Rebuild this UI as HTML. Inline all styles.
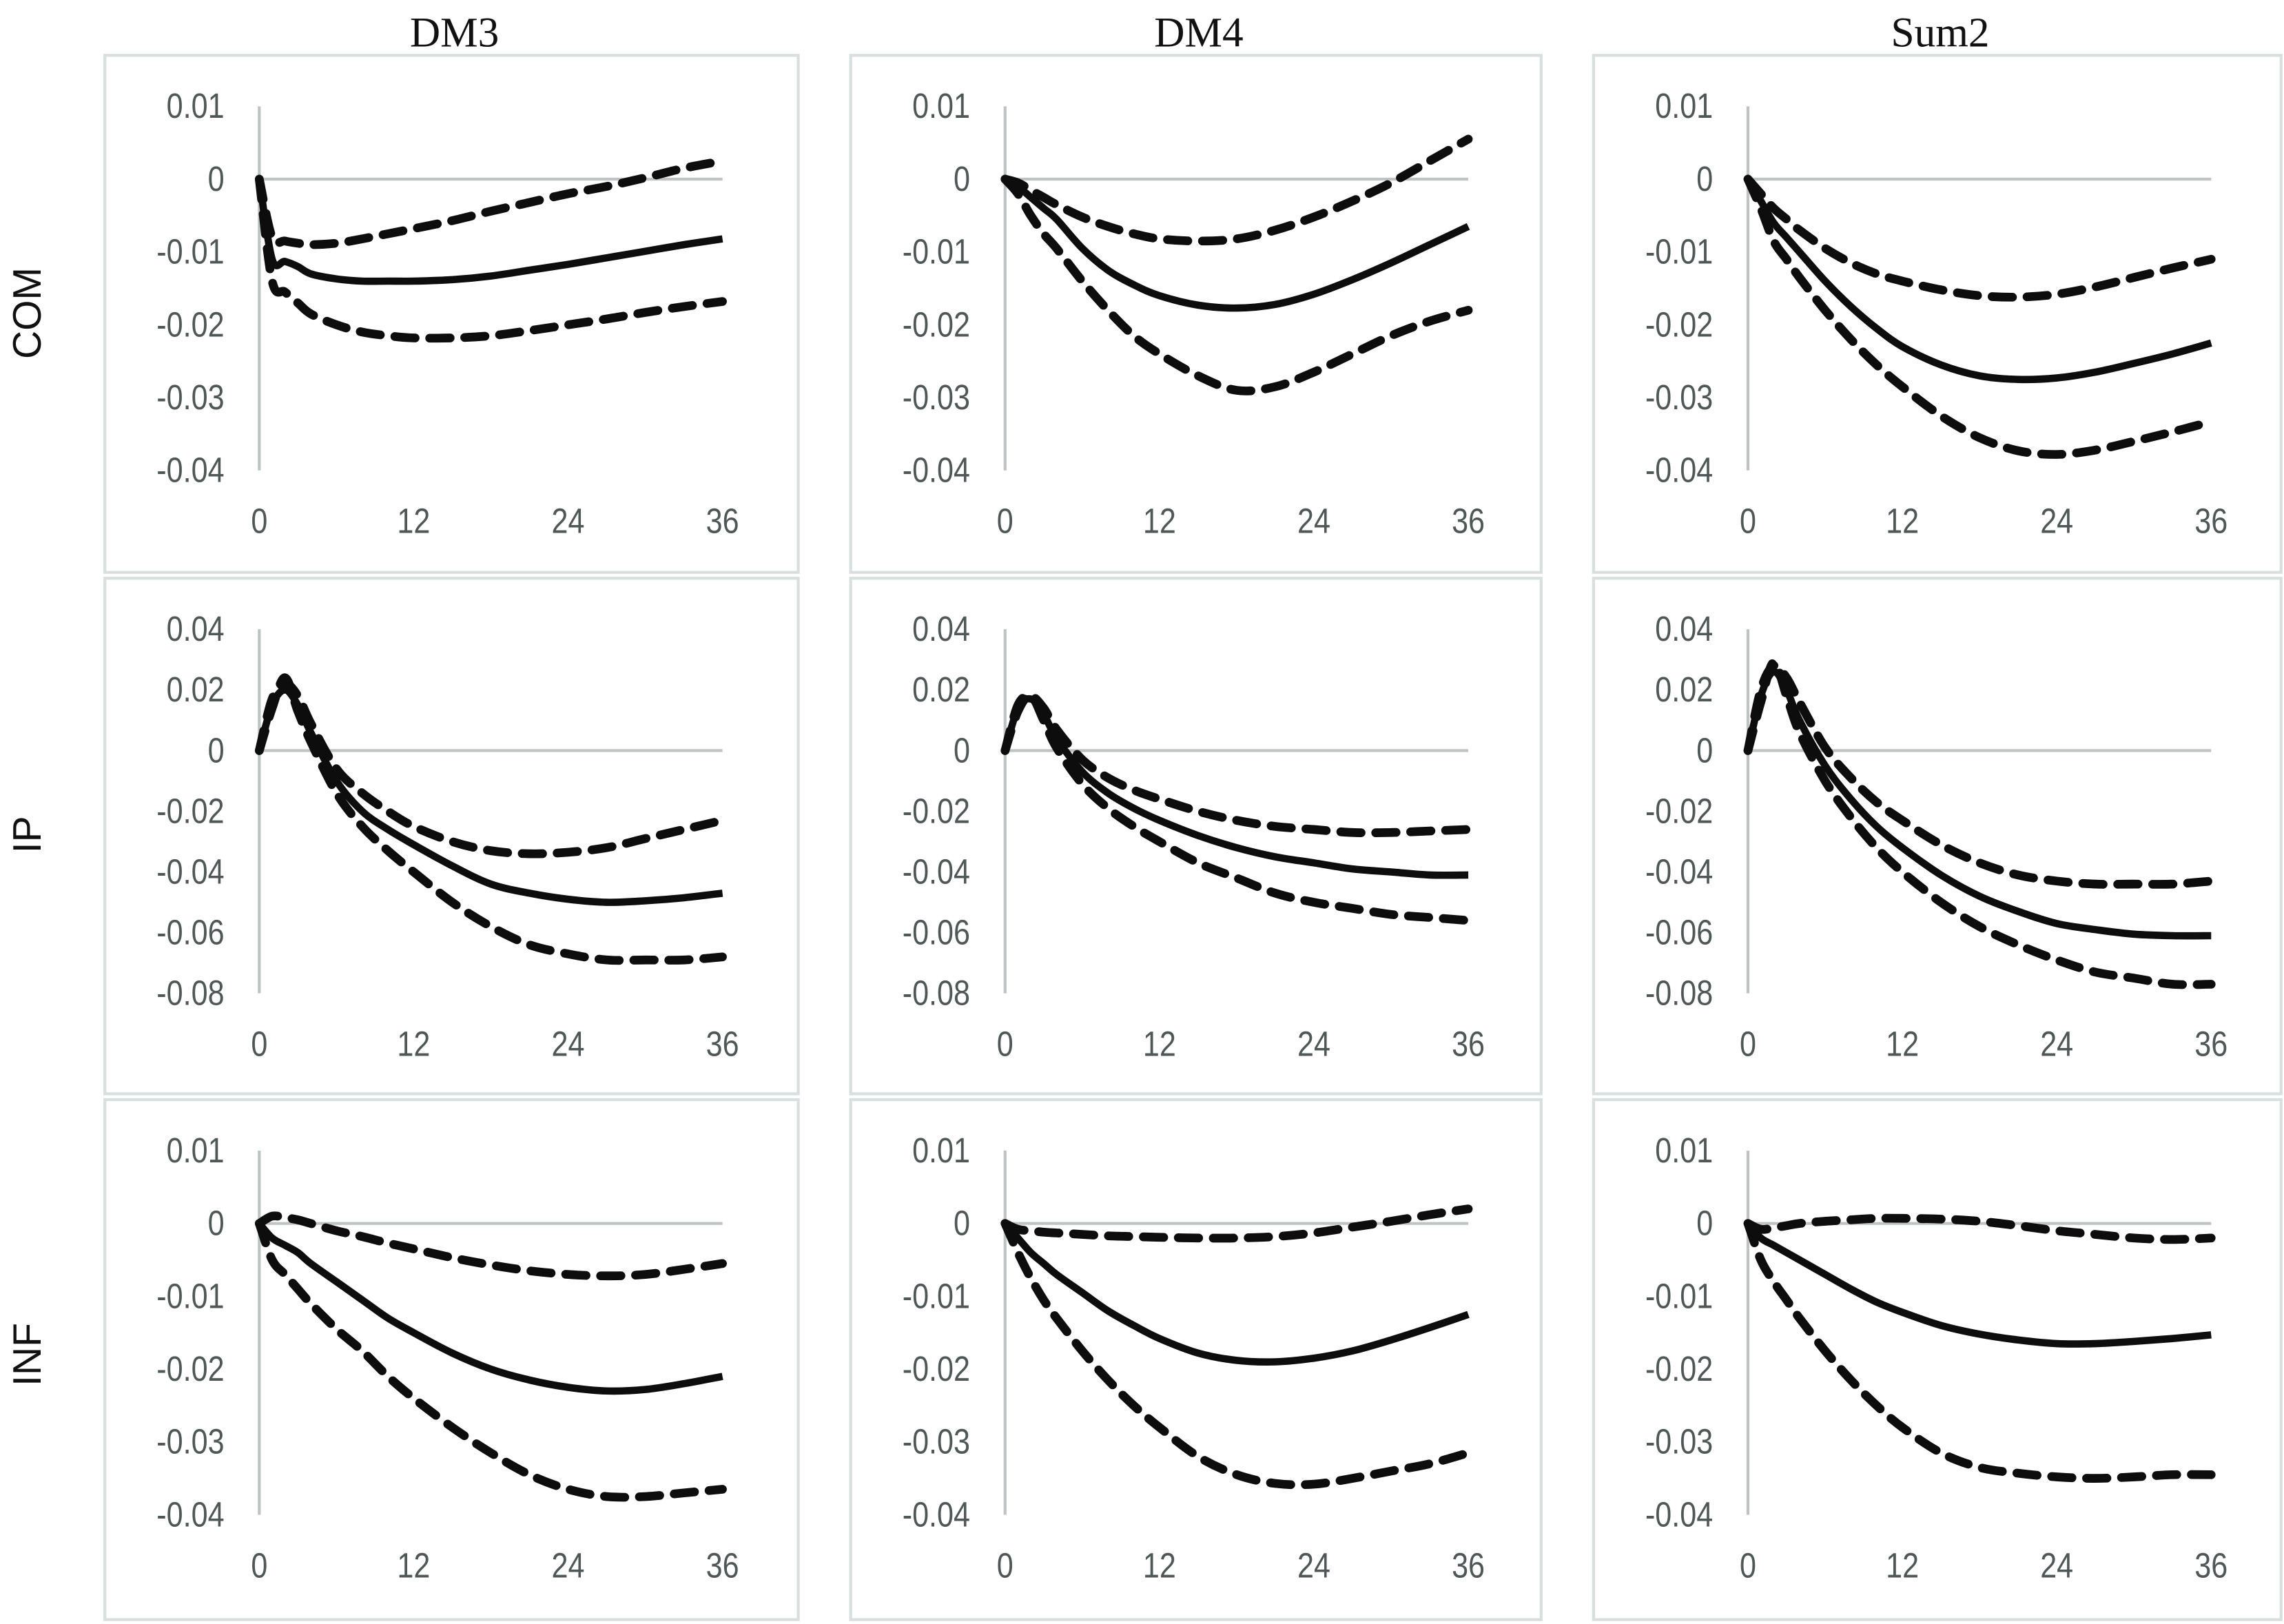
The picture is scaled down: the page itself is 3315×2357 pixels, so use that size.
<!DOCTYPE html>
<html><head><meta charset="utf-8"><style>
html,body{margin:0;padding:0;background:#fff;}
svg{display:block;}
</style></head><body>
<svg id="chart" xmlns="http://www.w3.org/2000/svg" width="3315" height="2357" viewBox="0 0 1568 1115" preserveAspectRatio="none"></svg>
<script>
// ---- data ----
const months = [0,1,2,3,4,6,8,10,12,15,18,21,24,27,30,33,36];
const xTicks = [0,12,24,36];
const colTitles = ["DM3","DM4","Sum2"];
const rowTitles = ["COM","IP","INF"];
const ticksSmall = [0.01,0,-0.01,-0.02,-0.03,-0.04];
const ticksIP = [0.04,0.02,0,-0.02,-0.04,-0.06,-0.08];

const comDM3Solid = [0,-0.011,-0.0113,-0.012,-0.013,-0.0137,-0.014,-0.014,-0.014,-0.0138,-0.0133,-0.0125,-0.0117,-0.0108,-0.0099,-0.009,-0.0082];
const comDM3Upper = [0,-0.008,-0.0085,-0.0088,-0.009,-0.0088,-0.0082,-0.0075,-0.0068,-0.0057,-0.0044,-0.0032,-0.002,-0.001,0.0002,0.0015,0.0025];
const comDM3Lower = [0,-0.014,-0.0155,-0.017,-0.0185,-0.020,-0.021,-0.0215,-0.0218,-0.0218,-0.0215,-0.0208,-0.0200,-0.0192,-0.0183,-0.0175,-0.0168];

const comDM4Solid = [0,-0.001,-0.0025,-0.004,-0.0055,-0.0095,-0.0125,-0.0145,-0.016,-0.0173,-0.0177,-0.0172,-0.0158,-0.0138,-0.0115,-0.009,-0.0065];
const comDM4Upper = [0,-0.0005,-0.0015,-0.0025,-0.0035,-0.0052,-0.0065,-0.0075,-0.0082,-0.0085,-0.0082,-0.007,-0.0052,-0.003,-0.0005,0.0025,0.0055];
const comDM4Lower = [0,-0.002,-0.005,-0.0075,-0.0095,-0.014,-0.018,-0.0215,-0.024,-0.027,-0.029,-0.0285,-0.0265,-0.024,-0.0215,-0.0195,-0.018];

const comSumSolid = [0,-0.003,-0.006,-0.008,-0.010,-0.014,-0.0175,-0.0205,-0.023,-0.0255,-0.027,-0.0275,-0.0273,-0.0265,-0.0253,-0.024,-0.0225];
const comSumUpper = [0,-0.002,-0.004,-0.0055,-0.007,-0.0095,-0.0115,-0.013,-0.014,-0.0152,-0.016,-0.0162,-0.0158,-0.0148,-0.0135,-0.0122,-0.011];
const comSumLower = [0,-0.004,-0.0085,-0.011,-0.0135,-0.018,-0.022,-0.0255,-0.0285,-0.0325,-0.0355,-0.0373,-0.0378,-0.0372,-0.036,-0.0347,-0.0333];

const ipDM3Solid = [0,0.015,0.02,0.015,0.006,-0.01,-0.02,-0.026,-0.031,-0.038,-0.044,-0.047,-0.049,-0.050,-0.0495,-0.0485,-0.047];
const ipDM3Upper = [0,0.017,0.022,0.018,0.009,-0.006,-0.014,-0.020,-0.025,-0.030,-0.033,-0.034,-0.0335,-0.032,-0.029,-0.026,-0.023];
const ipDM3Lower = [0,0.014,0.024,0.013,0.003,-0.014,-0.025,-0.033,-0.040,-0.050,-0.058,-0.064,-0.067,-0.069,-0.069,-0.069,-0.068];

const ipDM4Solid = [0,0.014,0.017,0.012,0.004,-0.007,-0.014,-0.019,-0.023,-0.028,-0.032,-0.035,-0.037,-0.039,-0.040,-0.041,-0.041];
const ipDM4Upper = [0,0.015,0.018,0.014,0.007,-0.003,-0.009,-0.013,-0.016,-0.020,-0.023,-0.025,-0.026,-0.027,-0.027,-0.0265,-0.026];
const ipDM4Lower = [0,0.013,0.018,0.010,0.001,-0.011,-0.019,-0.025,-0.030,-0.037,-0.042,-0.047,-0.050,-0.052,-0.054,-0.055,-0.056];

const ipSumSolid = [0,0.018,0.026,0.02,0.01,-0.005,-0.016,-0.025,-0.032,-0.041,-0.048,-0.053,-0.057,-0.059,-0.0605,-0.061,-0.061];
const ipSumUpper = [0,0.02,0.028,0.024,0.016,0.001,-0.009,-0.017,-0.023,-0.031,-0.037,-0.041,-0.043,-0.044,-0.044,-0.044,-0.043];
const ipSumLower = [0,0.016,0.029,0.018,0.006,-0.010,-0.022,-0.032,-0.040,-0.050,-0.058,-0.064,-0.069,-0.073,-0.075,-0.077,-0.077];

const infDM3Solid = [0,-0.002,-0.003,-0.004,-0.0055,-0.008,-0.0105,-0.013,-0.015,-0.0178,-0.020,-0.0215,-0.0225,-0.023,-0.0228,-0.022,-0.021];
const infDM3Upper = [0,0.001,0.0008,0.0005,0,-0.001,-0.0018,-0.0027,-0.0035,-0.0047,-0.0057,-0.0065,-0.007,-0.0072,-0.007,-0.0063,-0.0055];
const infDM3Lower = [0,-0.005,-0.007,-0.009,-0.011,-0.0145,-0.0175,-0.021,-0.024,-0.028,-0.0315,-0.0345,-0.0365,-0.0375,-0.0375,-0.037,-0.0365];

const infDM4Solid = [0,-0.002,-0.004,-0.0055,-0.007,-0.0095,-0.012,-0.014,-0.0158,-0.0178,-0.0188,-0.019,-0.0185,-0.0175,-0.016,-0.0143,-0.0125];
const infDM4Upper = [0,-0.0008,-0.001,-0.0012,-0.0013,-0.0015,-0.0017,-0.0018,-0.0019,-0.002,-0.002,-0.0018,-0.0013,-0.0005,0.0003,0.0012,0.002];
const infDM4Lower = [0,-0.004,-0.0075,-0.0105,-0.013,-0.0175,-0.0215,-0.025,-0.028,-0.032,-0.0345,-0.0357,-0.0358,-0.035,-0.034,-0.033,-0.0315];

const infSumSolid = [0,-0.002,-0.003,-0.004,-0.005,-0.007,-0.009,-0.0108,-0.0122,-0.014,-0.0152,-0.016,-0.0165,-0.0165,-0.0162,-0.0158,-0.0153];
const infSumUpper = [0,-0.0008,-0.0006,-0.0003,0,0.0003,0.0005,0.0007,0.0007,0.0006,0.0003,-0.0003,-0.001,-0.0015,-0.002,-0.0022,-0.002];
const infSumLower = [0,-0.005,-0.008,-0.0105,-0.013,-0.0175,-0.0215,-0.025,-0.028,-0.0315,-0.0335,-0.0343,-0.0348,-0.035,-0.0348,-0.0345,-0.0345];

const panelSeries = [
  [[comDM3Solid,comDM3Upper,comDM3Lower],[comDM4Solid,comDM4Upper,comDM4Lower],[comSumSolid,comSumUpper,comSumLower]],
  [[ipDM3Solid,ipDM3Upper,ipDM3Lower],[ipDM4Solid,ipDM4Upper,ipDM4Lower],[ipSumSolid,ipSumUpper,ipSumLower]],
  [[infDM3Solid,infDM3Upper,infDM3Lower],[infDM4Solid,infDM4Upper,infDM4Lower],[infSumSolid,infSumUpper,infSumLower]]
];
const rowTicks = [ticksSmall, ticksIP, ticksSmall];

// ---- layout ----
const NS = "http://www.w3.org/2000/svg";
const svg = document.getElementById("chart");
const colLeft = [72,584,1094], colRight = [548,1058,1566];
const rowTop = [38,397,755], rowBottom = [393,751,1112];
const colNames = ["dm3","dm4","sum2"], rowNames = ["com","ip","inf"];

function mk(tag, attrs, parent){
  const e = document.createElementNS(NS, tag);
  for (const k in attrs) e.setAttribute(k, attrs[k]);
  (parent||svg).appendChild(e);
  return e;
}
function fmt(v){ if (v===0) return "0"; return v.toFixed(2); }

colTitles.forEach((t,c)=>{
  const e = mk("text",{x:(colLeft[c]+colRight[c])/2+2, y:32, "text-anchor":"middle", "font-family":"Liberation Serif, serif", "font-size":29, fill:"#111"});
  e.textContent = t;
  
  
});
rowTitles.forEach((t,r)=>{
  const cy = [215,573,930][r];
  const e = mk("text",{x:0,y:0,"text-anchor":"middle","font-family":"Liberation Sans, sans-serif","font-size":27,fill:"#111",transform:`translate(28,${cy}) rotate(-90)`});
  e.textContent = t;
  
  
});

for (let r=0;r<3;r++){
  for (let c=0;c<3;c++){
    const g = mk("g",{});
    
    
    const L = colLeft[c], T = rowTop[r];
    const border = mk("rect",{x:L, y:T, width:colRight[c]-L, height:rowBottom[r]-T, fill:"none", stroke:"#d9dede", "stroke-width":2}, g);
    
    
    const ticks = rowTicks[r];
    const yMax = ticks[0], yMin = ticks[ticks.length-1];
    const yTop = T+35, yBot = T+285;
    const x0 = L+106, x1 = L+424;
    const X = m => x0 + (m-0)/(36-0)*(x1-x0);
    const Y = v => yTop + (yMax-v)/(yMax-yMin)*(yBot-yTop);
    const va = mk("line",{x1:x0,x2:x0,y1:Y(yMax),y2:Y(yMin),stroke:"#bfc3c3","stroke-width":2},g);
    
    
    const ha = mk("line",{x1:X(0),x2:X(36),y1:Y(0),y2:Y(0),stroke:"#bfc3c3","stroke-width":2},g);
    
    
    ticks.forEach(v=>{
      const t = mk("text",{x:x0-24,y:Y(v)+8,"text-anchor":"end","font-family":"Liberation Sans, sans-serif","font-size":24,fill:"#4f5757",transform:`translate(${(x0-24)*0.15},0) scale(0.85,1)`},g);
      t.textContent = fmt(v);
      
      
    });
    xTicks.forEach(m=>{
      const t = mk("text",{x:X(m),y:T+328,"text-anchor":"middle","font-family":"Liberation Sans, sans-serif","font-size":24,fill:"#4f5757",transform:`translate(${X(m)*0.15},0) scale(0.85,1)`},g);
      t.textContent = String(m);
      
      
    });
    const names = ["irf-median-line","upper-band-line","lower-band-line"];
    panelSeries[r][c].forEach((vals,i)=>{
      const pts = months.map((m,k)=>[X(m),Y(vals[k])]);
      let d = `M${pts[0][0]},${pts[0][1]}`;
      for (let k=0;k<pts.length-1;k++){
        const p0 = pts[Math.max(k-1,0)], p1 = pts[k], p2 = pts[k+1], p3 = pts[Math.min(k+2,pts.length-1)];
        const c1x = p1[0]+(p2[0]-p0[0])/6, c1y = p1[1]+(p2[1]-p0[1])/6;
        const c2x = p2[0]-(p3[0]-p1[0])/6, c2y = p2[1]-(p3[1]-p1[1])/6;
        d += ` C${c1x},${c1y} ${c2x},${c2y} ${p2[0]},${p2[1]}`;
      }
      const attrs = {d:d, fill:"none", stroke:"#0d0d0d", "stroke-linejoin":"round"};
      if (i===0){ attrs["stroke-width"]=5; }
      else { attrs["stroke-width"]=6; attrs["stroke-dasharray"]="14 10"; attrs["stroke-linecap"]="round"; }
      const p = mk("path", attrs, g);
      
      
    });
  }
}
</script>
</body></html>
